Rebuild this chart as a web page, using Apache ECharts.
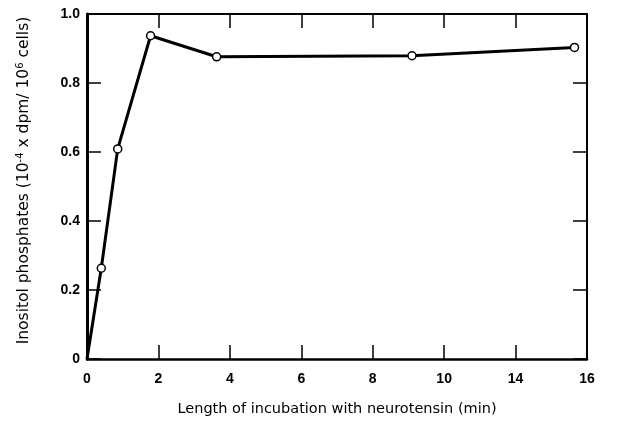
<!DOCTYPE html>
<html>
<head>
<meta charset="utf-8">
<script src="https://cdn.jsdelivr.net/npm/echarts@6/dist/echarts.min.js"></script>
<style>
  html, body { margin: 0; padding: 0; background: #fff; }
  #chart { width: 618px; height: 424px; }
</style>
</head>
<body>
<div id="chart"></div>
<script>
// x positions are in axis-tick units (the printed axis labels its 7th tick "14")
const timePos = [0, 0.40, 0.86, 1.78, 3.63, 9.10, 13.65]
const inositol = [0, 0.263, 0.609, 0.937, 0.876, 0.879, 0.903]
const xTickLabels = ['0', '2', '4', '6', '8', '10', '14', '16']
const yTickLabels = ['0', '0.2', '0.4', '0.6', '0.8', '1.0']

const chart = echarts.init(document.getElementById('chart'))

const tickFont = 'Liberation Sans, Arial, sans-serif'
const nameFont = 'DejaVu Sans, sans-serif'
const seriesData = timePos.map((x, i) => [x, inositol[i]])

const frameTick = {
  show: true,
  inside: true,
  length: 14,
  lineStyle: { color: '#000', width: 1.5 }
}

const option = {
  backgroundColor: '#fff',
  animation: false,
  grid: { left: 87, right: 31, top: 14, bottom: 65 },
  xAxis: [
    {
      type: 'value',
      min: 0,
      max: 14,
      interval: 2,
      position: 'bottom',
      name: 'Length of incubation with neurotensin (min)',
      nameLocation: 'middle',
      nameGap: 43,
      nameTextStyle: { fontFamily: nameFont, fontSize: 14.5, color: '#000' },
      axisLine: { show: true, onZero: false, lineStyle: { color: '#000', width: 2.5 } },
      axisTick: frameTick,
      axisLabel: {
        margin: 13,
        fontFamily: tickFont,
        fontSize: 14,
        fontWeight: 'bold',
        color: '#000',
        formatter: v => xTickLabels[Math.round(v / 2)]
      },
      splitLine: { show: false }
    },
    {
      type: 'value',
      min: 0,
      max: 14,
      interval: 2,
      position: 'top',
      axisLine: { show: true, onZero: false, lineStyle: { color: '#000', width: 2 } },
      axisTick: frameTick,
      axisLabel: { show: false },
      splitLine: { show: false }
    }
  ],
  yAxis: [
    {
      type: 'value',
      min: 0,
      max: 1,
      interval: 0.2,
      position: 'left',
      name: 'Inositol phosphates (10{sup|-4} x dpm/ 10{sup|6} cells)',
      nameLocation: 'middle',
      nameGap: 54,
      nameTextStyle: {
        fontFamily: nameFont,
        fontSize: 15.5,
        color: '#000',
        lineHeight: 18,
        padding: [0, 0, 0, 12],
        rich: {
          sup: { fontFamily: nameFont, fontSize: 10, color: '#000', verticalAlign: 'top', lineHeight: 10 }
        }
      },
      axisLine: { show: true, onZero: false, lineStyle: { color: '#000', width: 3 } },
      axisTick: frameTick,
      axisLabel: {
        margin: 7,
        fontFamily: tickFont,
        fontSize: 14,
        fontWeight: 'bold',
        color: '#000',
        formatter: v => yTickLabels[Math.round(v * 5)]
      },
      splitLine: { show: false }
    },
    {
      type: 'value',
      min: 0,
      max: 1,
      interval: 0.2,
      position: 'right',
      axisLine: { show: true, onZero: false, lineStyle: { color: '#000', width: 2 } },
      axisTick: frameTick,
      axisLabel: { show: false },
      splitLine: { show: false }
    }
  ],
  series: [
    {
      type: 'line',
      xAxisIndex: 0,
      yAxisIndex: 0,
      data: seriesData,
      symbol: 'circle',
      symbolSize: (val, params) => (params.dataIndex === 0 ? 0 : 8),
      showAllSymbol: true,
      lineStyle: { color: '#000', width: 3 },
      itemStyle: { color: '#fff', borderColor: '#000', borderWidth: 1.5 },
      z: 5
    }
  ]
}

chart.setOption(option)
</script>
</body>
</html>
